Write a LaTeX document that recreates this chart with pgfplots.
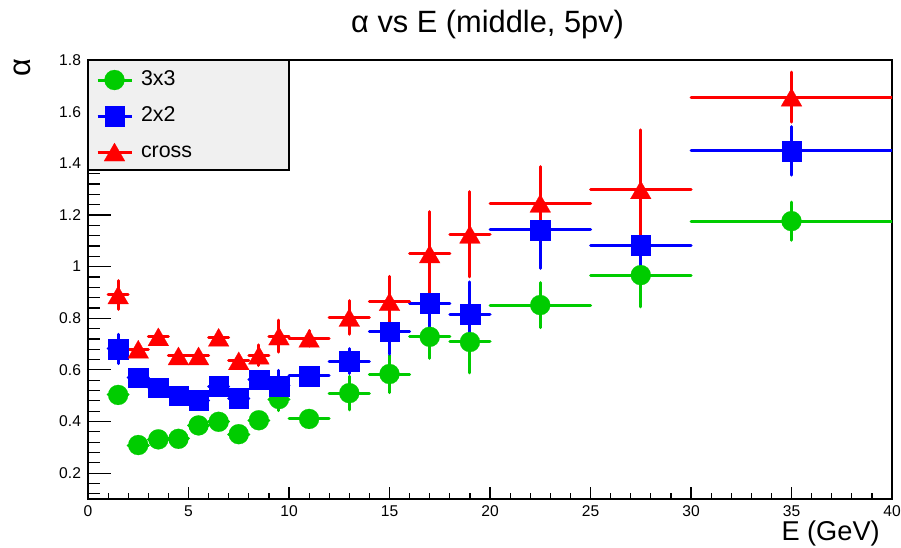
\documentclass[border=0pt]{standalone}
\usepackage{fontspec}
\setmainfont{Liberation Sans}
\usepackage{pgfplots}
\usepackage{pgfplotstable}
\pgfplotsset{compat=1.18}
\definecolor{rgreen}{RGB}{0,204,0}
\definecolor{rblue}{RGB}{0,0,255}
\definecolor{rred}{RGB}{255,0,0}
\definecolor{legfill}{RGB}{240,240,240}

\pgfplotstableread{
x xe y ye
1.5 0.5 0.503 0.02
2.5 0.5 0.309 0.02
3.5 0.5 0.331 0.02
4.5 0.5 0.333 0.02
5.5 0.5 0.385 0.02
6.5 0.5 0.399 0.02
7.5 0.5 0.351 0.02
8.5 0.5 0.405 0.02
9.5 0.5 0.487 0.045
11 1 0.410 0.02
13 1 0.510 0.065
15 1 0.584 0.072
17 1 0.728 0.083
19 1 0.708 0.12
22.5 2.5 0.851 0.087
27.5 2.5 0.967 0.123
35 5 1.176 0.074
}\greentab

\pgfplotstableread{
x xe y ye
1.5 0.5 0.681 0.057
2.5 0.5 0.570 0.025
3.5 0.5 0.531 0.025
4.5 0.5 0.501 0.025
5.5 0.5 0.483 0.025
6.5 0.5 0.537 0.025
7.5 0.5 0.490 0.025
8.5 0.5 0.563 0.025
9.5 0.5 0.538 0.06
11 1 0.577 0.025
13 1 0.634 0.048
15 1 0.748 0.087
17 1 0.858 0.116
19 1 0.815 0.126
22.5 2.5 1.142 0.149
27.5 2.5 1.083 0.147
35 5 1.448 0.094
}\bluetab

\pgfplotstableread{
x xe y ye
1.5 0.5 0.890 0.056
2.5 0.5 0.680 0.02
3.5 0.5 0.728 0.025
4.5 0.5 0.654 0.02
5.5 0.5 0.654 0.02
6.5 0.5 0.726 0.025
7.5 0.5 0.635 0.02
8.5 0.5 0.657 0.04
9.5 0.5 0.731 0.062
11 1 0.722 0.03
13 1 0.803 0.065
15 1 0.864 0.098
17 1 1.049 0.164
19 1 1.125 0.165
22.5 2.5 1.245 0.142
27.5 2.5 1.297 0.232
35 5 1.656 0.097
}\redtab

\begin{document}
\begin{tikzpicture}
\begin{axis}[
  scale only axis, width=402pt, height=219.5pt,
  xmin=0, xmax=40, ymin=0.1, ymax=1.8,
  axis line style={line width=0.6pt},
  every tick/.style={line width=0.6pt, black},
  xtick={0,5,...,40}, minor x tick num=4,
  ytick={0.2,0.4,0.6,0.8,1,1.2,1.4,1.6,1.8},
  minor ytick={0.12,0.16,0.24,0.28,0.32,0.36,0.44,0.48,0.52,0.56,0.64,0.68,0.72,0.76,0.84,0.88,0.92,0.96,1.04,1.08,1.12,1.16,1.24,1.28,1.32,1.36,1.44,1.48,1.52,1.56,1.64,1.68,1.72,1.76},
  xtick pos=bottom, ytick pos=left, tick align=inside,
  major x tick style={/pgfplots/major tick length=6pt},
  minor x tick style={/pgfplots/minor tick length=3pt},
  major y tick style={/pgfplots/major tick length=11.5pt},
  minor y tick style={/pgfplots/minor tick length=6pt},
  /pgf/number format/assume math mode=true,
  ticklabel style={font=\fontsize{7.8}{9}\selectfont},
  legend image code/.code={
    \draw[#1, line width=1.5pt, mark=none] (0pt,0pt) -- (17pt,0pt);
    \draw[#1, only marks] plot coordinates {(8.5pt,0pt)};
  },
  legend style={at={(0,1)}, anchor=north west, draw=none, fill=none,
    inner sep=0pt, outer sep=0pt, xshift=4pt, yshift=-4.75pt,
    row sep=7.5pt, column sep=4pt,
    font=\fontsize{10.7}{12}\selectfont,
    nodes={inner sep=0pt, text height=8pt, text depth=2.5pt}},
  legend cell align=left,
]
\draw[fill=legfill, line width=0.6pt] (rel axis cs:0,1) rectangle (rel axis cs:0.25,0.7494);

\addplot[rgreen, only marks, mark=*, mark size=5pt, mark options={solid, fill=rgreen, draw=rgreen, line width=0.1pt},
  error bars/.cd, x dir=both, x explicit, y dir=both, y explicit, error mark=none,
  error bar style={line width=1.5pt, line cap=round}]
  table[x=x, y=y, x error=xe, y error=ye] {\greentab};
\addlegendentry{3x3}

\addplot[rblue, only marks, mark=square*, mark size=4.9pt, mark options={solid, fill=rblue, draw=rblue, line width=0.1pt},
  error bars/.cd, x dir=both, x explicit, y dir=both, y explicit, error mark=none,
  error bar style={line width=1.5pt, line cap=round}]
  table[x=x, y=y, x error=xe, y error=ye] {\bluetab};
\addlegendentry{2x2}

\addplot[rred, only marks, mark=triangle*, mark size=6pt, mark options={solid, fill=rred, draw=rred, line width=0.1pt, yshift=-1.5pt},
  error bars/.cd, x dir=both, x explicit, y dir=both, y explicit, error mark=none,
  error bar style={line width=1.5pt, line cap=round}]
  table[x=x, y=y, x error=xe, y error=ye] {\redtab};
\addlegendentry{cross}

\coordinate (SW) at (rel axis cs:0,0);
\coordinate (NE) at (rel axis cs:1,1);
\coordinate (NW) at (rel axis cs:0,1);
\coordinate (TT) at (rel axis cs:0.497,1);
\end{axis}
\node[anchor=base, font=\fontsize{15.4}{18}\selectfont] at ([yshift=14pt]TT) {α vs E (middle, 5pv)};
\node[anchor=base east, font=\fontsize{13.6}{16}\selectfont] at ([xshift=-2.6pt, yshift=-20.5pt]NE |- SW) {E (GeV)};
\node[rotate=90, font=\fontsize{15.4}{18}\selectfont] at ([xshift=-33pt, yshift=-4pt]NW) {α};
\pgfresetboundingbox
\path ([xshift=-44pt, yshift=-24pt]SW) rectangle ([xshift=4.5pt, yshift=30pt]NE);
\end{tikzpicture}
\end{document}
